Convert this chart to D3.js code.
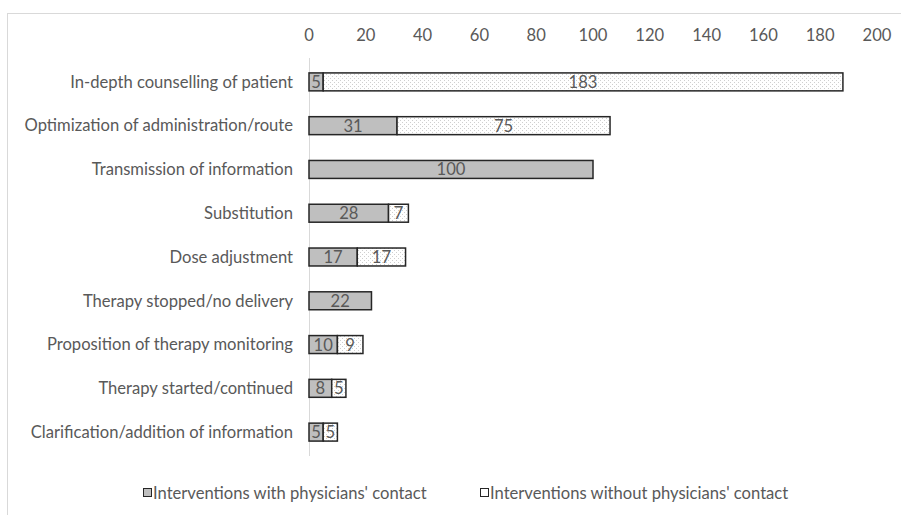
<!DOCTYPE html>
<html>
<head>
<meta charset="utf-8">
<script src="https://cdn.jsdelivr.net/npm/d3@7"></script>
<style>
  body { margin: 0; background: #fff; }
  svg text { font-family: Lato, "Open Sans", sans-serif; fill: #595959; font-size: 16.6px; }
</style>
</head>
<body>
<div id="chart"></div>
<script>
// Chart data
const categories = [
  'In-depth counselling of patient',
  'Optimization of administration/route',
  'Transmission of information',
  'Substitution',
  'Dose adjustment',
  'Therapy stopped/no delivery',
  'Proposition of therapy monitoring',
  'Therapy started/continued',
  'Clarification/addition of information'
];
const withContact = [5, 31, 100, 28, 17, 22, 10, 8, 5];
const withoutContact = [183, 75, 0, 7, 17, 0, 9, 5, 5];
const seriesNames = ["Interventions with physicians' contact", "Interventions without physicians' contact"];
const xTicks = [0, 20, 40, 60, 80, 100, 120, 140, 160, 180, 200];

const width = 901, height = 515;

const svg = d3.select('#chart')
  .append('svg')
  .attr('width', width)
  .attr('height', height);

// dotted fill for second series
const defs = svg.append('defs');
const pat = defs.append('pattern')
  .attr('id', 'dots')
  .attr('patternUnits', 'userSpaceOnUse')
  .attr('width', 4)
  .attr('height', 4);
pat.append('rect').attr('width', 4).attr('height', 4).attr('fill', '#fff');
pat.append('rect').attr('x', 0).attr('y', 0).attr('width', 1).attr('height', 1).attr('fill', '#cfcfcf');
pat.append('rect').attr('x', 2).attr('y', 2).attr('width', 1).attr('height', 1).attr('fill', '#cfcfcf');

// outer chart frame (cropped at right/bottom)
svg.append('rect')
  .attr('x', 7.5)
  .attr('y', 13.5)
  .attr('width', 1000)
  .attr('height', 1000)
  .attr('fill', 'none')
  .attr('stroke', '#d9d9d9');

const x = d3.scaleLinear().domain([0, 200]).range([309, 877]);
const y = d3.scaleBand()
  .domain(categories)
  .range([60, 454])
  .paddingInner(0.59)
  .paddingOuter(0.295);

// top axis labels
svg.append('g')
  .selectAll('text')
  .data(xTicks)
  .enter()
  .append('text')
  .attr('x', d => x(d))
  .attr('y', 35)
  .attr('dy', '0.35em')
  .attr('text-anchor', 'middle')
  .text(d => d);

// vertical axis line
svg.append('line')
  .attr('x1', x(0) + 0.5)
  .attr('x2', x(0) + 0.5)
  .attr('y1', 58)
  .attr('y2', 456)
  .attr('stroke', '#d9d9d9');

// category labels
svg.append('g')
  .selectAll('text')
  .data(categories)
  .enter()
  .append('text')
  .attr('x', 293)
  .attr('y', d => y(d) + y.bandwidth() / 2)
  .attr('dy', '0.35em')
  .attr('text-anchor', 'end')
  .text(d => d);

// stack data
const rows = categories.map((c, i) => ({ cat: c, a: withContact[i], b: withoutContact[i] }));
const stack = d3.stack().keys(['a', 'b'])(rows);
const fills = ['#bfbfbf', 'url(#dots)'];

stack.forEach((layer, li) => {
  const g = svg.append('g');
  const segs = layer.filter(d => d[1] - d[0] > 0);
  g.selectAll('rect')
    .data(segs)
    .enter()
    .append('rect')
    .attr('x', d => x(d[0]))
    .attr('y', d => y(d.data.cat))
    .attr('width', d => x(d[1]) - x(d[0]))
    .attr('height', y.bandwidth())
    .attr('fill', fills[li])
    .attr('stroke', '#262626')
    .attr('stroke-width', 1.5);
  g.selectAll('text')
    .data(segs)
    .enter()
    .append('text')
    .attr('x', d => (x(d[0]) + x(d[1])) / 2)
    .attr('y', d => y(d.data.cat) + y.bandwidth() / 2)
    .attr('dy', '0.36em')
    .attr('text-anchor', 'middle')
    .text(d => d[1] - d[0]);
});

// legend
const legendX = [143, 480];
const legend = svg.append('g');
seriesNames.forEach((name, i) => {
  legend.append('rect')
    .attr('x', legendX[i] + 0.5)
    .attr('y', 488.5)
    .attr('width', 8)
    .attr('height', 8)
    .attr('fill', i === 0 ? '#bfbfbf' : '#fff')
    .attr('stroke', '#262626')
    .attr('stroke-width', 1);
  legend.append('text')
    .attr('x', legendX[i] + 10)
    .attr('y', 493)
    .attr('dy', '0.35em')
    .text(name);
});
</script>
</body>
</html>
